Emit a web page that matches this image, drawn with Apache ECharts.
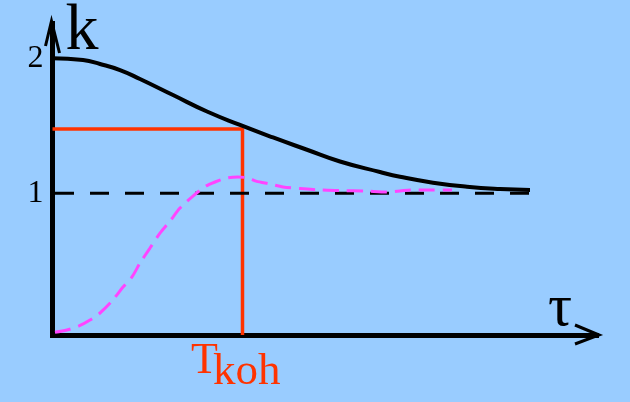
<!DOCTYPE html>
<html>
<head>
<meta charset="utf-8">
<script src="https://cdn.jsdelivr.net/npm/echarts@6/dist/echarts.min.js"></script>
<style>
html,body{margin:0;padding:0;background:#99CCFF;}
#c{width:630px;height:402px;}
</style>
</head>
<body>
<div id="c"></div>
<script>
// ---- data ----
var kTau = [0, 0.61, 0.95, 1.35, 1.75, 2.41, 3.09, 3.75, 4.41, 5.09, 5.75, 6.55, 6.95, 7.61, 8.29, 8.95, 9.55];
var kValues = [2.0, 1.986, 1.957, 1.912, 1.846, 1.727, 1.605, 1.506, 1.413, 1.322, 1.235, 1.157, 1.122, 1.078, 1.048, 1.031, 1.024];
var pTau = [0.05, 0.29, 0.53, 0.75, 0.95, 1.19, 1.41, 1.59, 1.75, 1.95, 2.15, 2.35, 2.55, 2.81, 3.07, 3.25, 3.49, 3.71, 3.91, 4.07, 4.35, 4.61, 4.95, 5.35, 5.75, 6.25, 6.69, 6.95, 7.17, 7.55, 7.99];
var pValues = [-0.03, -0.013, 0.017, 0.061, 0.113, 0.202, 0.305, 0.38, 0.483, 0.594, 0.705, 0.794, 0.89, 0.979, 1.053, 1.083, 1.113, 1.12, 1.113, 1.09, 1.068, 1.046, 1.035, 1.024, 1.02, 1.016, 1.009, 1.016, 1.024, 1.024, 1.024];
var asymptoteTau = [0.05, 9.75];
var asymptoteValue = 1;
var tKoh = 3.8;
var kAtTKoh = 1.475;
var yTickLabels = [1, 2];
var yAxisName = 'k';
var xAxisName = '\u03C4';
var markerMain = 'T';
var markerSub = 'koh';

function zip(a, b) { return a.map(function (x, i) { return [x, b[i]]; }); }

var chart = echarts.init(document.getElementById('c'), null, { renderer: 'canvas' });
var serif = '"Liberation Serif", "DejaVu Serif", serif';

chart.setOption({
  backgroundColor: '#99CCFF',
  animation: false,
  grid: { left: 52.5, right: 33.5, top: 23.5, bottom: 67, containLabel: false },
  xAxis: {
    type: 'value', min: 0, max: 10.88,
    axisLine: { onZero: false, lineStyle: { color: '#000', width: 5, cap: 'square' } },
    axisTick: { show: false }, axisLabel: { show: false }, splitLine: { show: false }
  },
  yAxis: {
    type: 'value', min: -0.05, max: 2.257,
    axisLine: { show: true, onZero: false, lineStyle: { color: '#000', width: 5, cap: 'square' } },
    axisTick: { show: false },
    axisLabel: { customValues: yTickLabels, color: '#000', fontSize: 32, fontFamily: serif, margin: 9 },
    splitLine: { show: false }
  },
  series: [
    {
      type: 'line', z: 2, showSymbol: false, silent: true,
      data: [[0, kAtTKoh], [tKoh, kAtTKoh], [tKoh, -0.05]],
      lineStyle: { color: '#FF3300', width: 3.5 }
    },
    {
      type: 'line', z: 3, showSymbol: false, silent: true,
      data: asymptoteTau.map(function (t) { return [t, asymptoteValue]; }),
      lineStyle: { color: '#000', width: 3, type: [19, 16] }
    },
    {
      type: 'line', z: 4, showSymbol: false, silent: true, smooth: 0.3,
      data: zip(pTau, pValues),
      lineStyle: { color: '#FF44FF', width: 3, type: [16, 8] }
    },
    {
      type: 'line', z: 5, showSymbol: false, silent: true, smooth: 0.5,
      data: zip(kTau, kValues),
      lineStyle: { color: '#000', width: 4 }
    }
  ],
  graphic: [
    { type: 'polyline', z: 10, shape: { points: [[45.5, 46], [51.5, 21], [59.5, 53]] }, style: { stroke: '#000', lineWidth: 3, fill: null } },
    { type: 'polyline', z: 10, shape: { points: [[575, 325], [599, 335], [575, 344]] }, style: { stroke: '#000', lineWidth: 3, fill: null } },
    { type: 'text', z: 10, style: { x: 82, y: 31.5, text: yAxisName, font: '66px ' + serif, fill: '#000', align: 'center', verticalAlign: 'middle' } },
    { type: 'text', z: 10, style: { x: 560, y: 309.5, text: xAxisName, font: '60px ' + serif, fill: '#000', align: 'center', verticalAlign: 'middle' } },
    { type: 'text', z: 10, style: { x: 191, y: 361, text: markerMain, font: '44px ' + serif, fill: '#FF3300', align: 'left', verticalAlign: 'middle' } },
    { type: 'text', z: 10, style: { x: 213, y: 372, text: markerSub, font: '45px ' + serif, fill: '#FF3300', align: 'left', verticalAlign: 'middle' } }
  ]
});
</script>
</body>
</html>
